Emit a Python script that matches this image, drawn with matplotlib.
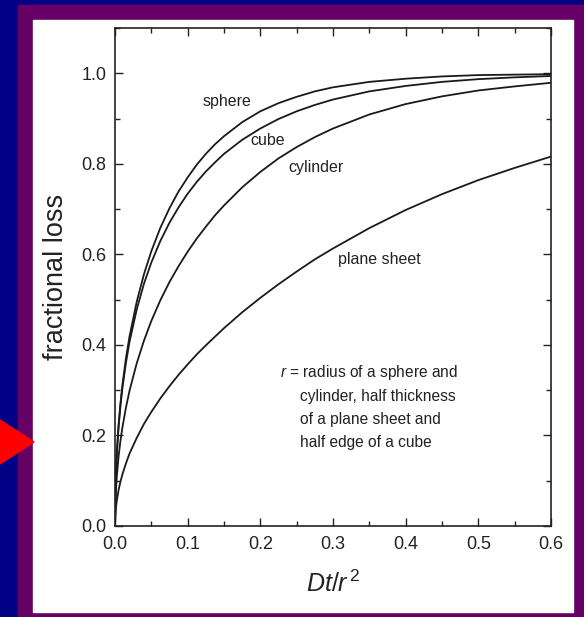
import matplotlib
matplotlib.use('Agg')
import matplotlib.pyplot as plt
from matplotlib.patches import Rectangle, Polygon
from matplotlib.ticker import MultipleLocator

plt.rcParams['font.family'] = ['Liberation Sans', 'DejaVu Sans']
plt.rcParams['mathtext.fontset'] = 'custom'
plt.rcParams['mathtext.rm'] = 'Liberation Sans'
plt.rcParams['mathtext.it'] = 'Liberation Sans:italic'

# Dt/r^2 sample points and fractional loss for each geometry
dt_r2 = [0, 0.001, 0.0025, 0.005, 0.0075, 0.01, 0.015, 0.02, 0.03, 0.04, 0.05,
         0.0625, 0.075, 0.0875, 0.1, 0.1125, 0.125, 0.1375, 0.15, 0.175, 0.2,
         0.225, 0.25, 0.275, 0.3, 0.35, 0.4, 0.45, 0.5, 0.55, 0.6]
sphere = [0, 0.104, 0.162, 0.224, 0.271, 0.309, 0.370, 0.419, 0.496, 0.557, 0.607,
          0.659, 0.702, 0.739, 0.770, 0.798, 0.822, 0.843, 0.861, 0.892, 0.916,
          0.934, 0.948, 0.960, 0.969, 0.981, 0.988, 0.993, 0.996, 0.997, 0.998]
cube = [0, 0.103, 0.160, 0.221, 0.265, 0.302, 0.360, 0.407, 0.479, 0.536, 0.582,
        0.630, 0.670, 0.704, 0.734, 0.760, 0.783, 0.803, 0.822, 0.853, 0.878,
        0.899, 0.916, 0.930, 0.942, 0.960, 0.972, 0.981, 0.987, 0.991, 0.994]
cylinder = [0, 0.070, 0.110, 0.155, 0.188, 0.216, 0.261, 0.299, 0.360, 0.410, 0.453,
            0.499, 0.539, 0.574, 0.606, 0.635, 0.661, 0.686, 0.708, 0.748, 0.782,
            0.812, 0.837, 0.859, 0.878, 0.909, 0.932, 0.949, 0.962, 0.971, 0.979]
plane_sheet = [0, 0.036, 0.056, 0.080, 0.098, 0.113, 0.138, 0.160, 0.195, 0.226, 0.252,
               0.282, 0.309, 0.334, 0.357, 0.379, 0.399, 0.418, 0.437, 0.472, 0.504,
               0.534, 0.562, 0.589, 0.613, 0.658, 0.698, 0.733, 0.764, 0.791, 0.816]

curve_labels = ['sphere', 'cube', 'cylinder', 'plane sheet']
label_pos = [(0.12, 0.938), (0.186, 0.852), (0.238, 0.792), (0.307, 0.589)]

note_lines = [r'$\mathit{r}$ = radius of a sphere and',
              'cylinder, half thickness',
              'of a plane sheet and',
              'half edge of a cube']

W, H = 584, 617
fig = plt.figure(figsize=(W / 100, H / 100), dpi=100)
fig.patch.set_facecolor('#010186')


def px_rect(x0, y0, x1, y1, color):
    # rectangle given in pixel coords measured from the top-left corner
    fig.patches.append(Rectangle((x0 / W, 1 - y1 / H), (x1 - x0) / W, (y1 - y0) / H,
                                 transform=fig.transFigure, color=color, zorder=-10))


px_rect(18, 4.5, W, H, '#660066')
px_rect(33, 20, 573, 612, 'white')
fig.patches.append(Polygon([(0, 1 - 420 / H), (34 / W, 1 - 442 / H), (0, 1 - 464 / H)],
                           closed=True, transform=fig.transFigure, color='#ff0000', zorder=-5))

ax = fig.add_axes([115 / W, 1 - 526 / H, 436 / W, 498 / H])
ax.set_facecolor('white')

for y in [sphere, cube, cylinder, plane_sheet]:
    ax.plot(dt_r2, y, color='#1a1a1a', lw=1.3)

for name, (lx, ly) in zip(curve_labels, label_pos):
    ax.text(lx, ly, name, fontsize=11.5, color='#222222', va='center', ha='left')

ax.text(0.227, 0.338, note_lines[0], fontsize=11.2, color='#222222', va='center')
for i, line in enumerate(note_lines[1:]):
    ax.text(0.255, 0.285 - i * 0.05, line, fontsize=11.2, color='#222222', va='center')

ax.set_xlim(0, 0.6)
ax.set_ylim(0, 1.1)
ax.xaxis.set_minor_locator(MultipleLocator(0.05))
ax.yaxis.set_minor_locator(MultipleLocator(0.1))
ax.set_xticks([0, 0.1, 0.2, 0.3, 0.4, 0.5, 0.6])
ax.set_yticks([0, 0.2, 0.4, 0.6, 0.8, 1.0])
ax.set_xticklabels(['0.0', '0.1', '0.2', '0.3', '0.4', '0.5', '0.6'])
ax.set_yticklabels(['0.0', '0.2', '0.4', '0.6', '0.8', '1.0'])

ax.tick_params(which='both', direction='in', top=True, right=True,
               colors='#222222', labelsize=13, width=1.0)
ax.tick_params(which='major', length=6)
ax.tick_params(which='minor', length=3.5)
ax.tick_params(axis='x', pad=7)
ax.tick_params(axis='y', pad=6)
for s in ax.spines.values():
    s.set_linewidth(1.2)
    s.set_color('#222222')

ax.set_ylabel('fractional loss', fontsize=19.5, color='#222222', labelpad=9)
ax.set_xlabel(r'$\mathit{Dt/r}^{\,2}$', fontsize=18, color='#222222', labelpad=13)

fig.savefig('out.png', dpi=100, facecolor=fig.get_facecolor())
